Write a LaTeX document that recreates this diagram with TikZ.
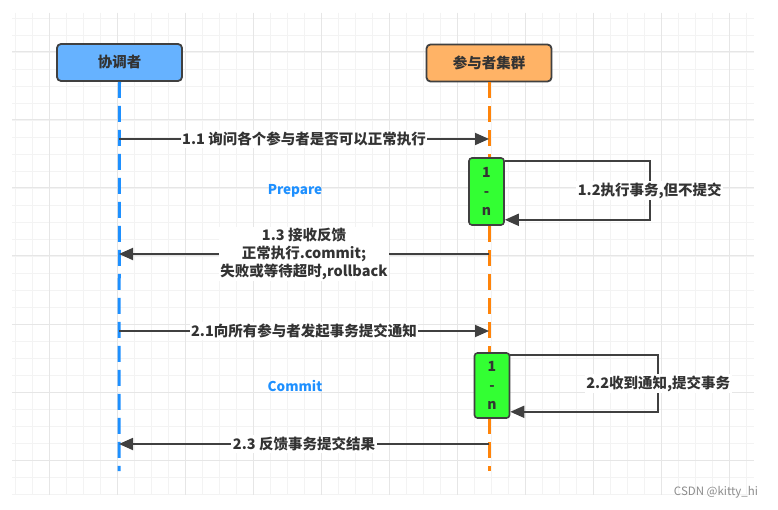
\documentclass[tikz,border=0pt]{standalone}
\usepackage{fontspec}
\setmainfont{Noto Sans CJK SC}
\usetikzlibrary{positioning,arrows.meta}
\definecolor{lifeblue}{RGB}{30,144,255}
\definecolor{lifeorange}{RGB}{255,132,10}
\definecolor{boxblue}{RGB}{102,178,255}
\definecolor{boxorange}{RGB}{255,179,102}
\definecolor{actgreen}{RGB}{51,255,51}
\definecolor{ink}{RGB}{51,51,51}
\definecolor{edgegray}{RGB}{64,64,64}
\definecolor{gridminor}{RGB}{243,243,243}
\definecolor{gridmajor}{RGB}{230,230,230}

\begin{document}
\begin{tikzpicture}[x=1pt, y=-1pt,
	head/.style={rectangle, rounded corners=4pt, draw=edgegray, line width=1.8pt,
	minimum width=125pt, minimum height=37pt, text=ink,
	font=\fontsize{14.5}{16}\selectfont\bfseries},
	act/.style={rectangle, rounded corners=3pt, fill=actgreen, draw=edgegray,
	line width=1.6pt, minimum width=35pt, minimum height=67pt, align=center,
	text=ink, inner sep=0pt, font=\fontsize{14}{19}\selectfont\bfseries},
	life/.style={line width=3pt, dash pattern=on 16pt off 8pt},
	msg/.style={draw=edgegray, line width=1.8pt,
	-{Triangle[length=14pt,width=12pt]}},
	lbl/.style={fill=white, text=ink, inner sep=1.5pt, align=center,
	font=\fontsize{14.5}{18}\selectfont\bfseries},
	phase/.style={text=lifeblue, font=\fontsize{13.5}{16}\selectfont\bfseries}
	]
	\fill[white] (0,0) rectangle (778,510);
	
	% grid
	\begin{scope}
	\clip (12,13) rectangle (754,495);
	\foreach \k in {0,...,43}
	\draw[gridminor, line width=0.9pt] (15+17*\k,13) -- (15+17*\k,495);
	\foreach \k in {0,...,28}
	\draw[gridminor, line width=0.9pt] (12,18+17*\k) -- (754,18+17*\k);
	\foreach \k in {0,...,10}
	\draw[gridmajor, line width=1pt] (49+68*\k,13) -- (49+68*\k,495);
	\foreach \k in {0,...,6}
	\draw[gridmajor, line width=1pt] (12,52+68*\k) -- (754,52+68*\k);
	\end{scope}
	
	% lifelines
	\node[head, fill=boxblue] (coord) at (119.5,62.5) {协调者};
	\node[head, fill=boxorange] (part) at (489,63) {参与者集群};
	\coordinate (coordend) at (119,471);
	\coordinate (partend) at (489,471);
	\draw[life, lifeblue] (coord.south) -- (coordend);
	\draw[life, lifeorange] (part.south) -- (partend);
	
	\coordinate (c1) at (119,139);
	\coordinate (p1) at (489,139);
	\coordinate (c3) at (119,254);
	\coordinate (p3) at (489,254);
	\coordinate (c4) at (119,331);
	\coordinate (p4) at (489,331);
	\coordinate (c6) at (119,444);
	\coordinate (p6) at (489,444);
	
	% prepare
	\draw[msg] (c1) -- node[lbl] {1.1 询问各个参与者是否可以正常执行} (p1);
	\node[act] (act1) at (486.5,191.5) {1\\-\\n};
	\draw[msg] ([yshift=-4pt]act1.north east) -- ++(145,0)
	|- node[lbl, pos=0.25] {1.2执行事务,但不提交} ([yshift=6pt]act1.south east);
	\node[phase] (prep) at (295,191) {Prepare};
	\draw[msg] (p3) -- node[lbl] {1.3 接收反馈\\正常执行.commit;\\失败或等待超时,rollback} (c3);
	
	% commit
	\draw[msg] (c4) -- node[lbl] {2.1向所有参与者发起事务提交通知} (p4);
	\node[act, minimum height=65pt] (act2) at (492,385.5) {1\\-\\n};
	\draw[msg] ([yshift=-3pt]act2.north east) -- ++(148,0)
	|- node[lbl, pos=0.25] {2.2收到通知,提交事务} ([yshift=7pt]act2.south east);
	\node[phase] (comm) at (295,386) {Commit};
	\draw[msg] (p6) -- node[lbl] {2.3 反馈事务提交结果} (c6);
	
	\node[text=black!45, font=\fontsize{11.5}{13}\selectfont] (mark) at (716,492) {CSDN @kitty\_hi};
\end{tikzpicture}
\end{document}
